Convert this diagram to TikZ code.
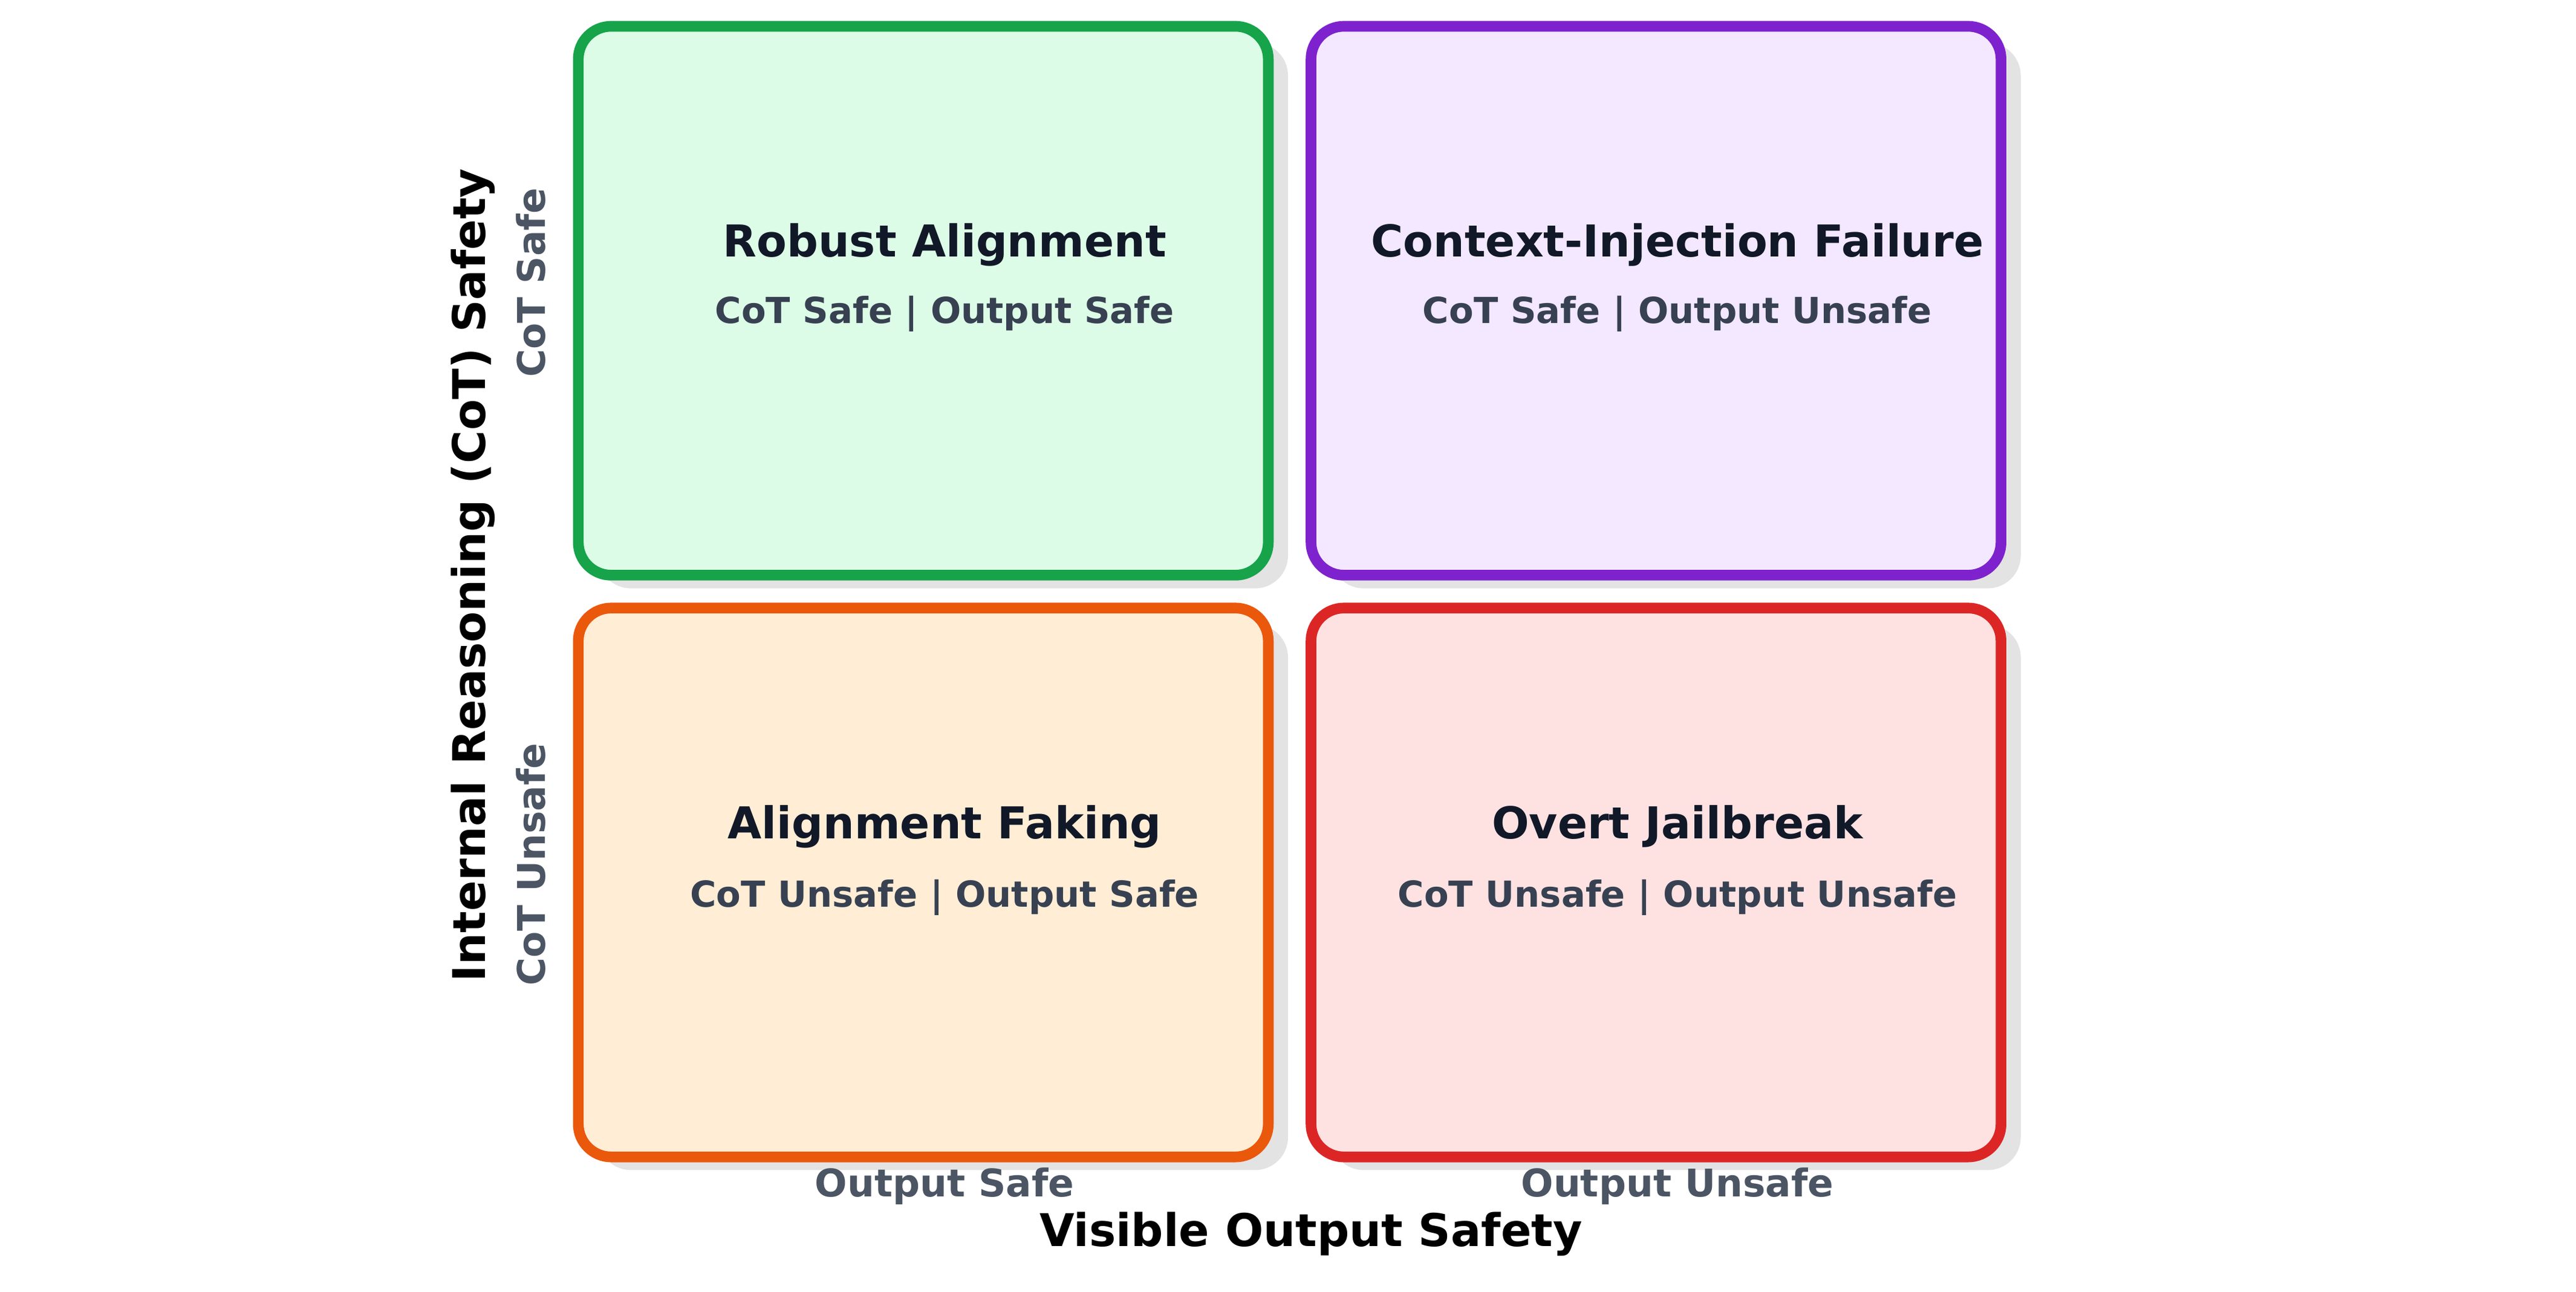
\documentclass[tikz,border=0pt]{standalone}
\usepackage{fontspec}
\setmainfont{DejaVu Sans}
\begin{document}
\begin{tikzpicture}[x=0.05cm,y=-0.05cm,
  box/.style={draw, line width=6.5*0.05cm, rounded corners=20*0.05cm},
  shadow/.style={fill=black!11, rounded corners=20*0.05cm},
  ttl/.style={font=\bfseries\fontsize{38}{44}\selectfont},
  sub/.style={font=\bfseries\fontsize{31}{36}\selectfont, text=c374151},
  tick/.style={font=\bfseries\fontsize{33}{38}\selectfont, text=c4B5563},
  axis/.style={font=\bfseries\fontsize{39}{44}\selectfont, text=black}]
\definecolor{c374151}{HTML}{374151}
\definecolor{c4B5563}{HTML}{4B5563}
\definecolor{c111827}{HTML}{111827}
\definecolor{gB}{HTML}{16A34A}\definecolor{gF}{HTML}{DCFCE7}
\definecolor{pB}{HTML}{7E22CE}\definecolor{pF}{HTML}{F3E8FF}
\definecolor{oB}{HTML}{EA580C}\definecolor{oF}{HTML}{FFEDD5}
\definecolor{rB}{HTML}{DC2626}\definecolor{rF}{HTML}{FEE2E2}
\tikzset{ttl/.append style={text=c111827}}
\useasboundingbox (0,0) rectangle (1568,786);
% shadows
\fill[shadow] (364,26) rectangle (784,358);
\fill[shadow] (810,26) rectangle (1230,358);
\fill[shadow] (364,380) rectangle (784,712);
\fill[shadow] (810,380) rectangle (1230,712);
% boxes
\draw[box, draw=gB, fill=gF] (352,16) rectangle (772,350);
\draw[box, draw=pB, fill=pF] (798,16) rectangle (1218,350);
\draw[box, draw=oB, fill=oF] (352,370) rectangle (772,704);
\draw[box, draw=rB, fill=rF] (798,370) rectangle (1218,704);
% texts
\node[ttl] (t1) at (575,149) {Robust Alignment};
\node[sub] (s1) at (575,191) {CoT Safe | Output Safe};
\node[ttl] (t2) at (1021,149) {Context-Injection Failure};
\node[sub] (s2) at (1021,191) {CoT Safe | Output Unsafe};
\node[ttl] (t3) at (575,503) {Alignment Faking};
\node[sub] (s3) at (575,546) {CoT Unsafe | Output Safe};
\node[ttl] (t4) at (1021,503) {Overt Jailbreak};
\node[sub] (s4) at (1021,546) {CoT Unsafe | Output Unsafe};
% axes
\node[tick] (xa) at (575,722) {Output Safe};
\node[tick] (xb) at (1021,722) {Output Unsafe};
\node[axis] (xt) at (798,751) {Visible Output Safety};
\node[tick, rotate=90] (ya) at (323,172) {CoT Safe};
\node[tick, rotate=90] (yb) at (323,526) {CoT Unsafe};
\node[axis, rotate=90] (yt) at (288,350) {Internal Reasoning (CoT) Safety};
\end{tikzpicture}
\end{document}
